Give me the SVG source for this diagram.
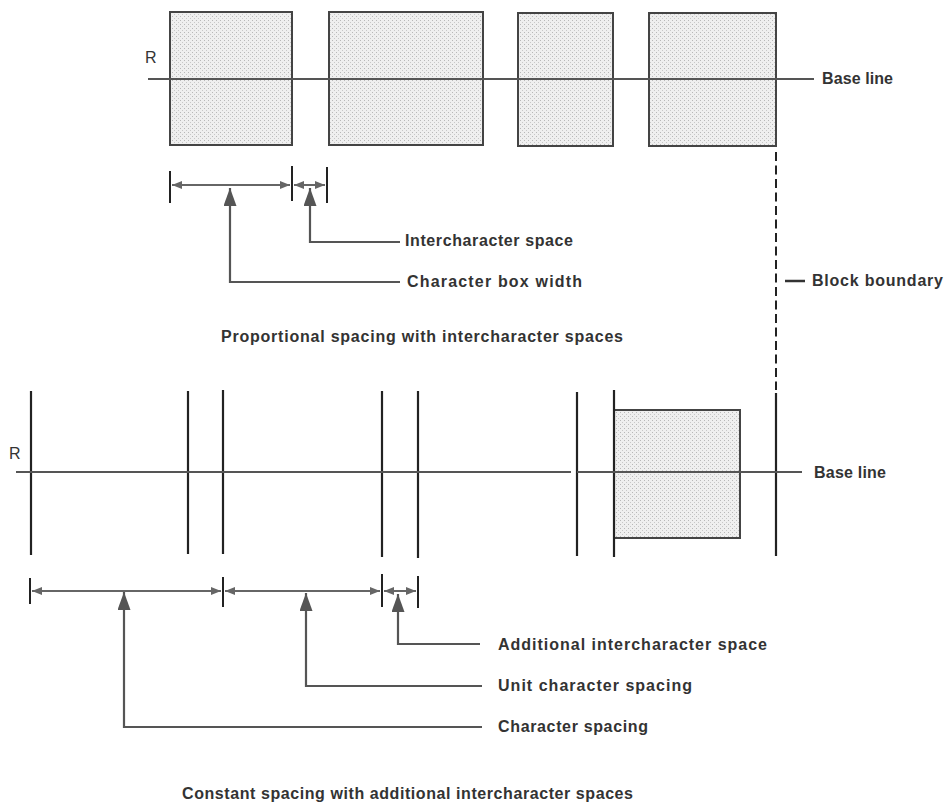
<svg xmlns="http://www.w3.org/2000/svg" width="949" height="805" viewBox="0 0 949 805">
<style>
.box{fill:url(#stip);stroke:#444;stroke-width:2}
.base{stroke:#555;stroke-width:2;fill:none}
.vert{stroke:#222;stroke-width:2.2;fill:none}
.tick{stroke:#222;stroke-width:2;fill:none}
.dim{stroke:#666;stroke-width:2;fill:none;marker-start:url(#dh);marker-end:url(#dh)}
.ptr{stroke:#555;stroke-width:2.2;fill:none;marker-start:url(#ph)}
.lbl{font-family:"Liberation Sans",Arial,sans-serif;font-size:16px;font-weight:bold;fill:#333}
.r{font-family:"Liberation Sans",Arial,sans-serif;font-size:16px;fill:#333}
</style>
<defs>
<pattern id="stip" width="4" height="4" patternUnits="userSpaceOnUse">
<rect width="4" height="4" fill="#efefef"/>
<rect x="0" y="0" width="1" height="1" fill="#b8b8b8"/>
<rect x="2" y="2" width="1" height="1" fill="#c8c8c8"/>
</pattern>
<marker id="dh" markerUnits="userSpaceOnUse" markerWidth="10" markerHeight="8" refX="10" refY="4" orient="auto-start-reverse">
<path d="M0,0 L10,4 L0,8 z" fill="#666"/>
</marker>
<marker id="ph" markerUnits="userSpaceOnUse" markerWidth="18" markerHeight="13" refX="18" refY="6.5" orient="auto-start-reverse">
<path d="M0,0 L18,6.5 L0,13 z" fill="#555"/>
</marker>
</defs>

<g id="top-boxes">
<rect id="box1" class="box" x="170" y="12" width="122" height="133"/>
<rect id="box2" class="box" x="329" y="12" width="154" height="133"/>
<rect id="box3" class="box" x="518" y="13" width="95" height="133"/>
<rect id="box4" class="box" x="649" y="13" width="127" height="133"/>
</g>
<g id="top-baseline">
<line class="base" x1="148" y1="79" x2="814" y2="79"/>
<text class="r" x="145" y="63">R</text>
<text class="lbl" x="822" y="84" textLength="71">Base line</text>
</g>

<g id="block-boundary">
<line x1="776" y1="152" x2="776" y2="390" stroke="#222" stroke-width="2" stroke-dasharray="9,4.5"/>
<line x1="785" y1="281" x2="805" y2="281" stroke="#333" stroke-width="2.5"/>
<text class="lbl" x="812" y="286" textLength="131">Block boundary</text>
</g>

<g id="top-dimensions">
<line class="tick" x1="170" y1="171" x2="170" y2="203"/>
<line class="tick" x1="292" y1="166" x2="292" y2="201"/>
<line class="tick" x1="327" y1="167" x2="327" y2="203"/>
</g>

<g id="connectors">
<line class="dim" x1="172" y1="185" x2="290" y2="185"/>
<line class="dim" x1="294" y1="185" x2="325" y2="185"/>
<path class="ptr" d="M230,188 V282 H400"/>
<path class="ptr" d="M310,188 V242 H400"/>

<line class="dim" x1="32" y1="591" x2="221" y2="591"/>
<line class="dim" x1="225" y1="591" x2="380" y2="591"/>
<line class="dim" x1="384" y1="591" x2="416" y2="591"/>
<path class="ptr" d="M124,592 V727 H482"/>
<path class="ptr" d="M306,593 V686 H482"/>
<path class="ptr" d="M398,594 V644 H480"/>
</g>

<g id="top-labels">
<text class="lbl" x="405" y="246" textLength="168">Intercharacter space</text>
<text class="lbl" x="407" y="287" textLength="175">Character box width</text>
<text class="lbl" x="221" y="342" textLength="402">Proportional spacing with intercharacter spaces</text>
</g>

<g id="bottom-verticals">
<line class="vert" x1="31" y1="391" x2="31" y2="555"/>
<line class="vert" x1="188" y1="391" x2="188" y2="554"/>
<line class="vert" x1="223" y1="390" x2="223" y2="554"/>
<line class="vert" x1="382" y1="391" x2="382" y2="557"/>
<line class="vert" x1="418" y1="391" x2="418" y2="558"/>
<line class="vert" x1="577" y1="392" x2="577" y2="556"/>
<line class="vert" x1="776" y1="393" x2="776" y2="556"/>
</g>
<g id="bottom-box">
<rect class="box" x="614" y="410" width="126" height="128"/>
<line class="vert" x1="614" y1="390" x2="614" y2="557"/>
</g>
<g id="bottom-baseline">
<line class="base" x1="16" y1="472" x2="571" y2="472"/>
<line class="base" x1="577" y1="472" x2="802" y2="472"/>
<text class="r" x="9" y="459">R</text>
<text class="lbl" x="814" y="478" textLength="72">Base line</text>
</g>

<g id="bottom-dimensions">
<line class="tick" x1="30" y1="578" x2="30" y2="604"/>
<line class="tick" x1="223" y1="577" x2="223" y2="607"/>
<line class="tick" x1="382" y1="574" x2="382" y2="607"/>
<line class="tick" x1="418" y1="576" x2="418" y2="608"/>
</g>

<g id="bottom-labels">
<text class="lbl" x="498" y="650" textLength="269">Additional intercharacter space</text>
<text class="lbl" x="498" y="691" textLength="194">Unit character spacing</text>
<text class="lbl" x="498" y="732" textLength="150">Character spacing</text>
<text class="lbl" x="182" y="799" textLength="451">Constant spacing with additional intercharacter spaces</text>
</g>
</svg>
